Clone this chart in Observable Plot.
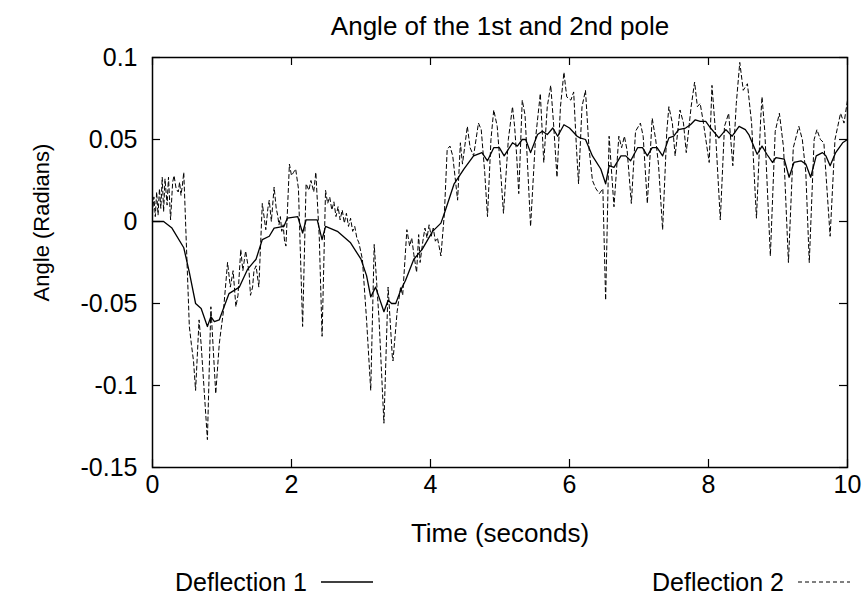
<!DOCTYPE html>
<html><head><meta charset="utf-8">
<script src="https://cdn.jsdelivr.net/npm/d3@7"></script>
<script src="https://cdn.jsdelivr.net/npm/@observablehq/plot@0.6"></script>
<style>
body{margin:0;background:#fff;font-family:"Liberation Sans",Arial,sans-serif;color:#000;}
#title{height:46px;line-height:52px;width:864px;padding-left:136px;box-sizing:border-box;text-align:center;font-size:26px;}
#legend{position:relative;height:50px;width:864px;font-size:25px;}
.item{position:absolute;top:0;display:flex;align-items:center;height:50px;}
.item svg{margin-left:14px;}
</style></head><body>
<div id="title"></div><div id="chart"></div><div id="legend"></div>
<script>
const titleText = "Angle of the 1st and 2nd pole";
const xLabel = "Time (seconds)";
const yLabel = "Angle (Radians)";
const seriesNames = ["Deflection 1", "Deflection 2"];
const xTicks = [0, 2, 4, 6, 8, 10];
const yTicks = [0.1, 0.05, 0, -0.05, -0.1, -0.15];

// [time, angle]
const deflection1 = [[0,0],[0.16,0],[0.28,-0.004],[0.45,-0.016],[0.53,-0.031],[0.62,-0.050],[0.70,-0.053],[0.79,-0.064],[0.84,-0.058],[0.89,-0.061],[0.96,-0.060],[1.03,-0.052],[1.10,-0.044],[1.25,-0.040],[1.37,-0.029],[1.49,-0.023],[1.58,-0.011],[1.68,-0.009],[1.75,-0.004],[1.89,-0.003],[1.94,0.002],[2.09,0.003],[2.16,-0.007],[2.21,0.001],[2.37,0.001],[2.44,-0.011],[2.49,-0.003],[2.66,-0.006],[2.85,-0.013],[3.00,-0.023],[3.08,-0.033],[3.14,-0.046],[3.21,-0.040],[3.33,-0.055],[3.39,-0.048],[3.44,-0.050],[3.50,-0.050],[3.57,-0.042],[3.64,-0.036],[3.76,-0.023],[3.88,-0.017],[4.03,-0.006],[4.15,-0.001],[4.20,0.005],[4.34,0.023],[4.48,0.032],[4.62,0.040],[4.74,0.042],[4.82,0.037],[4.91,0.045],[4.99,0.045],[5.06,0.040],[5.18,0.048],[5.25,0.046],[5.32,0.050],[5.37,0.050],[5.44,0.042],[5.54,0.053],[5.61,0.055],[5.68,0.053],[5.76,0.057],[5.83,0.052],[5.92,0.059],[6.00,0.057],[6.11,0.052],[6.15,0.051],[6.23,0.050],[6.33,0.040],[6.45,0.032],[6.52,0.023],[6.57,0.034],[6.64,0.033],[6.74,0.040],[6.81,0.040],[6.88,0.037],[6.98,0.045],[7.05,0.045],[7.12,0.040],[7.19,0.045],[7.26,0.045],[7.34,0.040],[7.43,0.051],[7.50,0.052],[7.57,0.056],[7.67,0.057],[7.74,0.059],[7.81,0.062],[7.88,0.061],[7.96,0.061],[8.03,0.057],[8.15,0.051],[8.25,0.056],[8.34,0.052],[8.44,0.058],[8.53,0.056],[8.58,0.053],[8.70,0.041],[8.77,0.046],[8.84,0.041],[8.92,0.036],[8.97,0.039],[9.09,0.038],[9.16,0.027],[9.23,0.036],[9.33,0.037],[9.40,0.035],[9.47,0.027],[9.55,0.040],[9.64,0.042],[9.69,0.040],[9.75,0.034],[9.83,0.042],[9.93,0.048],[10.0,0.050]];

const deflection2 = [[0.00,0.005],[0.02,0.015],[0.04,0.003],[0.06,0.018],[0.08,0.004],[0.10,0.020],[0.12,0.008],[0.14,0.027],[0.16,0.006],[0.18,0.026],[0.21,0.010],[0.23,0.027],[0.26,0.001],[0.29,0.024],[0.31,0.028],[0.34,0.020],[0.37,0.018],[0.39,0.024],[0.41,0.016],[0.43,0.022],[0.45,0.030],[0.53,-0.064],[0.56,-0.075],[0.59,-0.085],[0.62,-0.103],[0.67,-0.060],[0.70,-0.075],[0.79,-0.133],[0.84,-0.052],[0.91,-0.105],[0.96,-0.075],[0.98,-0.068],[1.02,-0.055],[1.08,-0.025],[1.12,-0.040],[1.16,-0.030],[1.20,-0.052],[1.23,-0.045],[1.27,-0.017],[1.30,-0.030],[1.34,-0.018],[1.39,-0.031],[1.41,-0.045],[1.44,-0.040],[1.46,-0.030],[1.49,-0.027],[1.53,-0.040],[1.58,0.011],[1.63,-0.005],[1.66,0.008],[1.68,0.013],[1.71,0.000],[1.75,0.021],[1.78,0.008],[1.80,0.004],[1.82,-0.002],[1.84,0.003],[1.86,-0.006],[1.88,-0.002],[1.90,-0.012],[1.92,-0.015],[1.97,0.035],[2.00,0.028],[2.03,0.030],[2.06,0.032],[2.10,0.020],[2.16,-0.064],[2.21,0.023],[2.25,0.019],[2.28,0.025],[2.32,0.018],[2.35,0.030],[2.40,-0.010],[2.44,-0.070],[2.49,0.019],[2.52,0.011],[2.55,0.015],[2.58,0.007],[2.61,0.012],[2.64,0.003],[2.67,0.009],[2.70,0.001],[2.73,0.007],[2.76,-0.001],[2.79,0.005],[2.82,-0.003],[2.85,0.002],[2.88,-0.006],[2.91,-0.003],[2.94,-0.010],[2.97,-0.013],[3.02,-0.023],[3.08,-0.060],[3.14,-0.103],[3.19,-0.014],[3.26,-0.060],[3.33,-0.123],[3.39,-0.040],[3.45,-0.082],[3.46,-0.085],[3.52,-0.055],[3.57,-0.040],[3.60,-0.045],[3.66,-0.005],[3.70,-0.015],[3.73,-0.010],[3.76,-0.020],[3.80,-0.031],[3.83,-0.008],[3.85,-0.025],[3.89,-0.012],[3.92,-0.004],[3.95,-0.010],[3.98,-0.002],[4.01,-0.009],[4.04,-0.004],[4.07,-0.012],[4.10,-0.010],[4.15,-0.021],[4.20,0.005],[4.24,0.044],[4.28,0.046],[4.32,0.040],[4.39,0.013],[4.43,0.048],[4.46,0.035],[4.53,0.058],[4.57,0.045],[4.62,0.040],[4.69,0.060],[4.73,0.056],[4.78,0.030],[4.82,0.003],[4.87,0.050],[4.91,0.068],[4.96,0.058],[5.01,0.030],[5.05,0.005],[5.12,0.050],[5.18,0.070],[5.21,0.058],[5.24,0.040],[5.27,0.017],[5.32,0.074],[5.36,0.065],[5.39,0.040],[5.44,-0.003],[5.51,0.050],[5.58,0.078],[5.63,0.036],[5.68,0.070],[5.73,0.083],[5.77,0.060],[5.82,0.027],[5.87,0.070],[5.92,0.091],[5.96,0.076],[6.02,0.074],[6.06,0.079],[6.10,0.045],[6.13,0.023],[6.18,0.070],[6.23,0.080],[6.28,0.045],[6.33,0.025],[6.38,0.020],[6.43,0.017],[6.48,0.020],[6.52,-0.048],[6.57,0.052],[6.64,0.009],[6.71,0.052],[6.75,0.045],[6.79,0.052],[6.83,0.043],[6.89,0.011],[6.95,0.055],[7.02,0.060],[7.06,0.052],[7.12,0.011],[7.19,0.063],[7.24,0.050],[7.28,0.035],[7.34,-0.005],[7.40,0.055],[7.43,0.070],[7.48,0.060],[7.52,0.040],[7.59,0.068],[7.64,0.060],[7.68,0.042],[7.75,0.070],[7.80,0.085],[7.84,0.070],[7.88,0.072],[7.92,0.062],[8.01,0.036],[8.05,0.083],[8.10,0.055],[8.17,0.001],[8.23,0.058],[8.29,0.066],[8.35,0.034],[8.40,0.072],[8.45,0.097],[8.50,0.080],[8.56,0.084],[8.62,0.060],[8.69,0.002],[8.75,0.062],[8.77,0.076],[8.81,0.055],[8.89,-0.021],[8.96,0.055],[9.02,0.066],[9.08,0.045],[9.15,-0.025],[9.22,0.045],[9.30,0.058],[9.35,0.050],[9.40,0.030],[9.45,-0.025],[9.52,0.050],[9.56,0.056],[9.61,0.050],[9.66,0.048],[9.75,-0.009],[9.82,0.050],[9.90,0.066],[9.95,0.060],[10.0,0.074]];

const fmt = d => String(+d.toFixed(2));
const font = '"Liberation Sans", Arial, sans-serif';

document.getElementById("title").textContent = titleText;

const chart = Plot.plot({
  width: 864,
  height: 511,
  marginLeft: 152,
  marginRight: 17,
  marginTop: 11,
  marginBottom: 90,
  style: {fontSize: "25px", fontFamily: font, background: "#fff", color: "#000", overflow: "visible"},
  x: {domain: [0, 10]},
  y: {domain: [-0.15, 0.1]},
  marks: [
    Plot.line(deflection2, {x: d => d[0], y: d => d[1], stroke: "#000", strokeWidth: 1, strokeDasharray: "4,3"}),
    Plot.line(deflection1, {x: d => d[0], y: d => d[1], stroke: "#000", strokeWidth: 1.3}),
    // inward ticks on all four sides (gnuplot style with mirror)
    Plot.ruleX(xTicks, {x: d => d, insetTop: 402, stroke: "#000", strokeWidth: 1.2}),
    Plot.ruleX(xTicks, {x: d => d, insetBottom: 402, stroke: "#000", strokeWidth: 1.2}),
    Plot.ruleY(yTicks, {y: d => d, insetRight: 687, stroke: "#000", strokeWidth: 1.2}),
    Plot.ruleY(yTicks, {y: d => d, insetLeft: 687, stroke: "#000", strokeWidth: 1.2}),
    Plot.frame({stroke: "#000", strokeWidth: 1.5}),
    Plot.axisX(xTicks, {anchor: "bottom", tickSize: 0, tickPadding: 8, tickFormat: fmt, label: null}),
    Plot.axisY(yTicks, {anchor: "left", tickSize: 0, tickPadding: 15, tickFormat: fmt, label: null}),
    Plot.text([xLabel], {text: d => d, frameAnchor: "bottom", dy: 74, fontSize: 26}),
    Plot.text([yLabel], {text: d => d, frameAnchor: "left", textAnchor: "middle", rotate: -90, dx: -111, dy: -40, fontSize: 22})
  ]
});
document.getElementById("chart").appendChild(chart);

const legend = document.getElementById("legend");
const lefts = [175, 652];
seriesNames.forEach((name, i) => {
  const item = document.createElement("div");
  item.className = "item";
  item.style.left = lefts[i] + "px";
  const span = document.createElement("span");
  span.textContent = name;
  item.appendChild(span);
  const svg = d3.create("svg").attr("width", 52).attr("height", 10);
  svg.append("line").attr("x1", 0).attr("x2", 52).attr("y1", 5).attr("y2", 5)
    .attr("stroke", "#000").attr("stroke-width", i === 0 ? 1.3 : 1)
    .attr("stroke-dasharray", i === 0 ? null : "4,3");
  item.appendChild(svg.node());
  legend.appendChild(item);
});
</script>
</body></html>
